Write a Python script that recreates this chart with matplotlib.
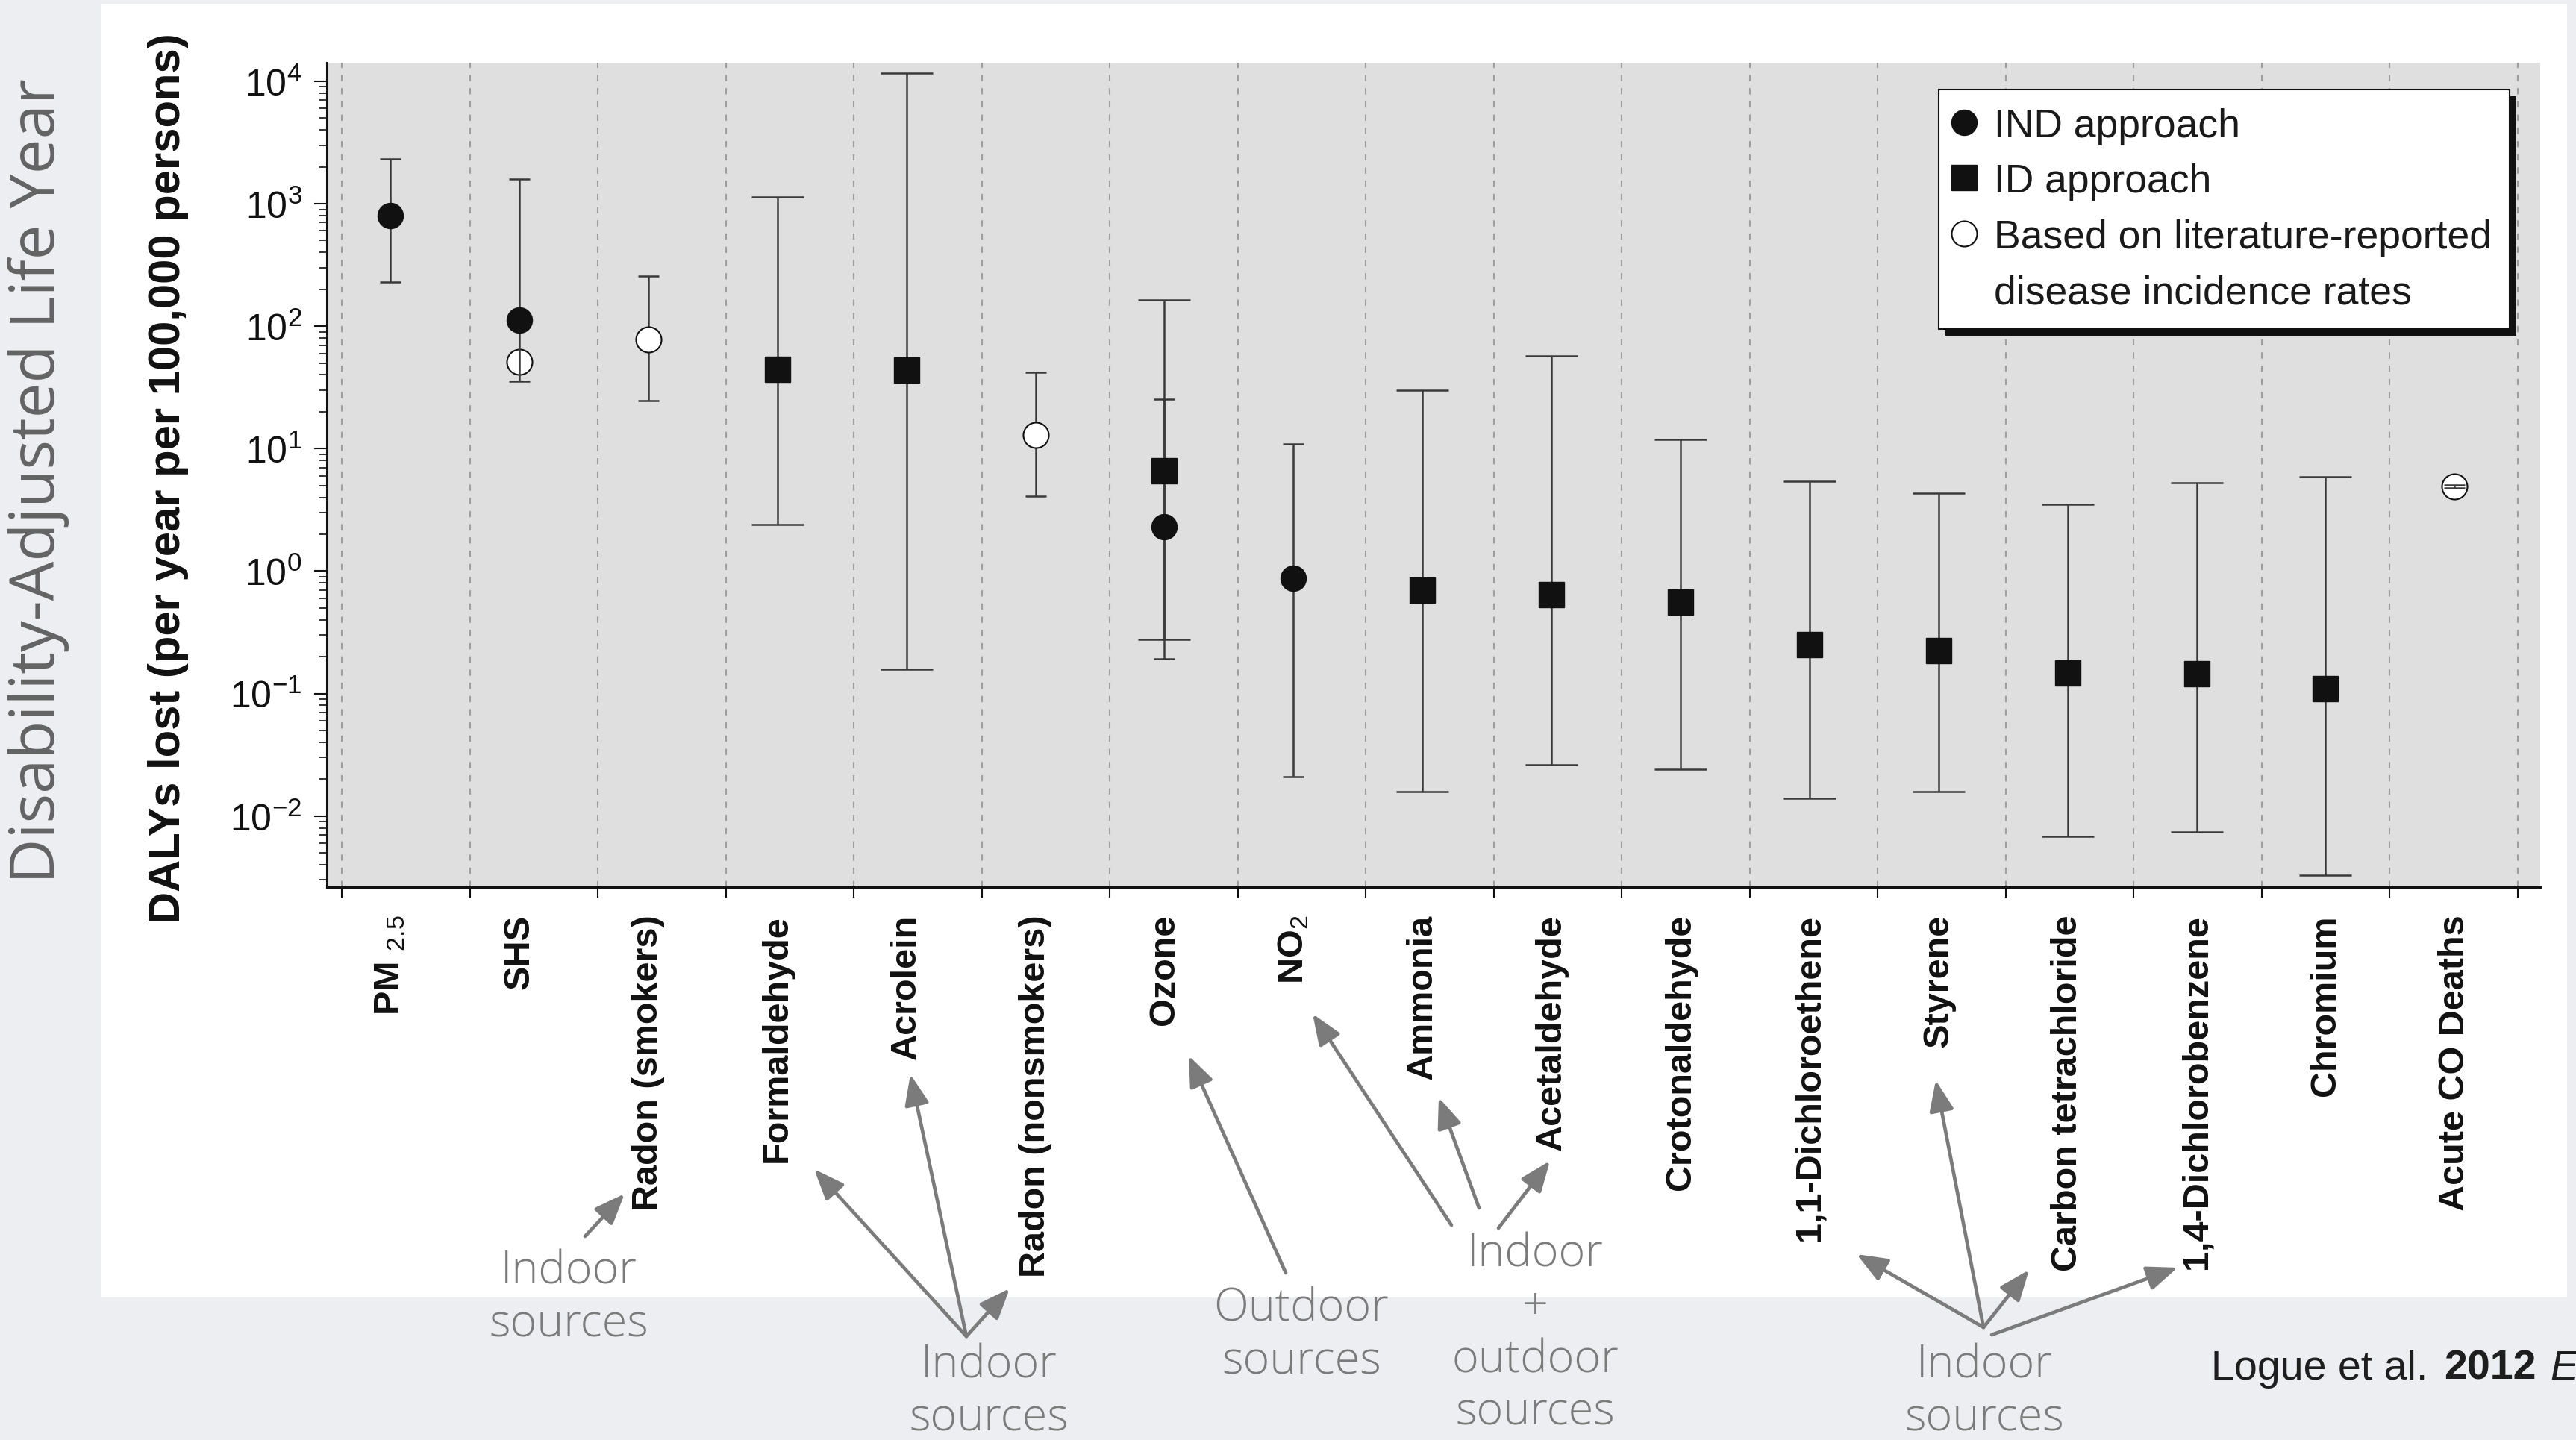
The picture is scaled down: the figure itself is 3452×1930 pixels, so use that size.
import numpy as np
import matplotlib
matplotlib.use("Agg")
import matplotlib.pyplot as plt
from matplotlib.patches import Rectangle
from matplotlib.lines import Line2D
from matplotlib.text import Annotation
from matplotlib.font_manager import FontProperties
from matplotlib.ticker import FixedLocator, LogLocator, NullFormatter

W, H, DPI = 3452, 1931, 100

plt.rcParams.update({
    "mathtext.fontset": "custom",
    "mathtext.rm": "Liberation Sans",
    "mathtext.it": "Liberation Sans:italic",
    "mathtext.bf": "Liberation Sans:bold",
})

# ---------------- data ----------------
categories = ["PM2.5", "SHS", "Radon (smokers)", "Formaldehyde", "Acrolein",
              "Radon (nonsmokers)", "Ozone", "NO2", "Ammonia", "Acetaldehyde",
              "Crotonaldehyde", "1,1-Dichloroethene", "Styrene",
              "Carbon tetrachloride", "1,4-Dichlorobenzene", "Chromium",
              "Acute CO Deaths"]
tick_labels = ["PM $_{\\mathrm{2.5}}$", "SHS", "Radon (smokers)", "Formaldehyde",
               "Acrolein", "Radon (nonsmokers)", "Ozone", "NO$_{\\mathrm{2}}$",
               "Ammonia", "Acetaldehyde", "Crotonaldehyde", "1,1-Dichloroethene",
               "Styrene", "Carbon tetrachloride", "1,4-Dichlorobenzene",
               "Chromium", "Acute CO Deaths"]

# IND approach (filled circles)
ind_names = ["PM2.5", "SHS", "Ozone", "NO2"]
ind_central = [800, 112, 2.3, 0.88]
ind_low = [228, 35.5, 0.192, 0.021]
ind_high = [2330, 1600, 25.5, 10.9]

# ID approach (filled squares)
id_names = ["Formaldehyde", "Acrolein", "Ozone", "Ammonia", "Acetaldehyde",
            "Crotonaldehyde", "1,1-Dichloroethene", "Styrene",
            "Carbon tetrachloride", "1,4-Dichlorobenzene", "Chromium"]
id_central = [44.5, 43.6, 6.6, 0.70, 0.64, 0.56, 0.25, 0.225, 0.147, 0.145, 0.110]
id_low = [2.4, 0.157, 0.277, 0.0158, 0.0262, 0.0242, 0.0140, 0.0158, 0.0068, 0.0074, 0.0033]
id_high = [1140, 11700, 163, 30.1, 57, 11.9, 5.44, 4.34, 3.51, 5.26, 5.88]

# Literature-reported disease incidence rates (open circles)
lit_names = ["SHS", "Radon (smokers)", "Radon (nonsmokers)", "Acute CO Deaths"]
lit_central = [51, 78, 12.9, 4.9]
lit_low = [np.nan, 24.7, 4.1, 4.75]
lit_high = [np.nan, 258, 42.2, 5.05]

legend_labels = ["IND approach", "ID approach", "Based on literature-reported",
                 "disease incidence rates"]

# ---------------- styling ----------------
SANS = ["Liberation Sans"]
LIGHT = ["Open Sans"]
MARK = "#111111"
BAR = "#3a3a3a"
NOTE = "#7b7b7b"


def fig_frac(x, y):
    """Convert top-left pixel position to figure fraction."""
    return x / W, 1 - y / H


fig = plt.figure(figsize=(W / DPI, H / DPI), dpi=DPI, facecolor="#eceef1")

# white panel behind the chart
x0, y0 = fig_frac(136, 1740)
x1, y1 = fig_frac(3440, 6)
fig.patches.append(Rectangle((x0, y0), x1 - x0, y1 - y0, transform=fig.transFigure,
                             facecolor="white", edgecolor="none", zorder=-5))

ax_l, ax_b = fig_frac(438, 1190)
ax_r, ax_t = fig_frac(3404, 85)
ax = fig.add_axes([ax_l, ax_b, ax_r - ax_l, ax_t - ax_b])
ax.set_zorder(1)
ax.set_facecolor("#dfdfdf")
ax.set_yscale("log")
ax.set_ylim(10 ** -2.581, 10 ** 4.152)
ax.set_xlim(-0.492, 16.663)
ax.set_axisbelow(True)

for s in ("top", "right"):
    ax.spines[s].set_visible(False)
for s in ("left", "bottom"):
    ax.spines[s].set_linewidth(2.2)
    ax.spines[s].set_color(MARK)

pos = {c: i for i, c in enumerate(categories)}
n = len(categories)

# band separators between categories
edges = -0.376 + 0.992 * np.arange(n + 1)
ax.xaxis.set_major_locator(FixedLocator(edges))
ax.xaxis.set_major_formatter(NullFormatter())
ax.tick_params(axis="x", which="major", direction="out", length=10, width=1.5,
               color=MARK)
ax.grid(True, axis="x", which="major", color="#9e9e9e", linestyle=(0, (4, 4.5)),
        linewidth=1.5)

# category names
ax.set_xticks(np.arange(n), labels=tick_labels, minor=True)
ax.tick_params(axis="x", which="minor", length=0, pad=26, labelrotation=90,
               labelsize=35, labelcolor=MARK)
for t in ax.get_xticklabels(minor=True):
    t.set_fontfamily(SANS)
    t.set_fontweight("bold")

# log y axis
ax.yaxis.set_major_locator(LogLocator(base=10, numticks=20))
ax.yaxis.set_minor_locator(LogLocator(base=10, subs=np.arange(2, 10), numticks=20))
ax.yaxis.set_minor_formatter(NullFormatter())
ax.tick_params(axis="y", which="major", direction="out", length=12, width=1.5,
               pad=12, labelsize=36, color=MARK, labelcolor=MARK)
ax.tick_params(axis="y", which="minor", direction="out", length=7, width=1.2,
               color=MARK)
for t in ax.get_yticklabels():
    t.set_fontfamily(SANS)

ax.set_ylabel("DALYs lost (per year per 100,000 persons)", fontfamily=SANS,
              fontweight="bold", fontsize=43, color=MARK)
ax.yaxis.set_label_coords(-0.0625, 0.497)


def bounds(central, low, high):
    c = np.asarray(central, float)
    return np.vstack([c - np.asarray(low, float), np.asarray(high, float) - c])


# literature-based values
lit_x = np.array([pos[c] for c in lit_names])
lit_err = bounds(lit_central, lit_low, lit_high)
bars_over_marker = np.array([c == "Acute CO Deaths" for c in lit_names])
for mask, z in ((~bars_over_marker, 2.0), (bars_over_marker, 3.2)):
    ax.errorbar(lit_x[mask], np.asarray(lit_central)[mask], yerr=lit_err[:, mask],
                fmt="none", ecolor=BAR, elinewidth=1.8, capsize=10, capthick=1.8,
                zorder=z)
ax.plot(lit_x, lit_central, linestyle="none", marker="o", markersize=24.5,
        markerfacecolor="white", markeredgecolor=MARK, markeredgewidth=1.5, zorder=3)

# IND approach
ind_x = [pos[c] for c in ind_names]
ax.errorbar(ind_x, ind_central, yerr=bounds(ind_central, ind_low, ind_high),
            fmt="o", markersize=24.5, color=MARK, ecolor=BAR, elinewidth=1.8,
            capsize=10, capthick=1.8, zorder=3.5)

# ID approach
id_x = [pos[c] for c in id_names]
ax.errorbar(id_x, id_central, yerr=bounds(id_central, id_low, id_high),
            fmt="s", markersize=24.5, color=MARK, ecolor=BAR, elinewidth=1.8,
            capsize=25.5, capthick=1.8, zorder=3.5)

# legend
handles = [
    Line2D([], [], linestyle="none", marker="o", markersize=24.5, color=MARK),
    Line2D([], [], linestyle="none", marker="s", markersize=24.5, color=MARK),
    Line2D([], [], linestyle="none", marker="o", markersize=24.5,
           markerfacecolor="white", markeredgecolor=MARK, markeredgewidth=1.5),
    Line2D([], [], linestyle="none"),
]
leg = ax.legend(handles, legend_labels, loc="upper right",
                bbox_to_anchor=((3363 - 438) / 2966, (1190 - 120.5) / 1105),
                borderaxespad=0, frameon=True, fancybox=False, framealpha=1,
                edgecolor=MARK, prop=FontProperties(family=SANS, size=38.5),
                borderpad=0.45, handlelength=0.38, handletextpad=0.55,
                labelspacing=0.46)
leg.get_frame().set_linewidth(1.5)
for t in leg.get_texts():
    t.set_color("#1a1a1a")

# left-hand title
fig.text(*fig_frac(52, 645), "Disability-Adjusted Life Year", rotation=90,
         ha="center", va="center", fontsize=60, fontfamily=LIGHT,
         fontweight="normal", color="#636363")

# source notes with arrows
notes = [("Indoor\nsources", 762, 1740),
         ("Indoor\nsources", 1325, 1866),
         ("Outdoor\nsources", 1744, 1790),
         ("Indoor\n+\noutdoor\nsources", 2057, 1788),
         ("Indoor\nsources", 2659, 1866)]
for txt, x, y in notes:
    fig.text(*fig_frac(x, y), txt, ha="center", va="center", ma="center",
             fontsize=44, fontfamily=LIGHT, fontweight="light", color=NOTE,
             linespacing=1.2)

arrows = [((784, 1658), (837, 1601)),
          ((1295, 1792), (1091, 1568)), ((1295, 1792), (1220, 1441)),
          ((1295, 1792), (1353, 1728)),
          ((1723, 1707), (1593, 1416)),
          ((1945, 1643), (1759, 1360)), ((1982, 1620), (1928, 1472)),
          ((2008, 1647), (2077, 1557)),
          ((2658, 1780), (2488, 1682)), ((2658, 1780), (2594, 1449)),
          ((2658, 1780), (2719, 1703)), ((2669, 1790), (2918, 1700))]
for (tx, ty), (hx, hy) in arrows:
    fig.add_artist(Annotation(
        "", xy=(hx, H - hy), xytext=(tx, H - ty), xycoords="figure pixels",
        textcoords="figure pixels",
        arrowprops=dict(arrowstyle="-|>,head_length=0.5,head_width=0.2",
                        mutation_scale=50, color=NOTE, lw=3.4,
                        shrinkA=0, shrinkB=0)))

# citation
cite_y = 1 - 1849 / H
c1 = fig.text(2963 / W, cite_y, "Logue et al.", fontfamily=SANS, fontsize=40,
              color="#1e1e1e", va="baseline")
c2 = Annotation("2012", xy=(1, cite_y), xycoords=(c1, "figure fraction"),
                xytext=(22, 0), textcoords="offset pixels", va="baseline",
                fontfamily=SANS, fontsize=40, fontweight="bold", color="#1e1e1e")
fig.add_artist(c2)
c3 = Annotation("E", xy=(1, cite_y), xycoords=(c2, "figure fraction"),
                xytext=(18, 0), textcoords="offset pixels", va="baseline",
                fontfamily=SANS, fontsize=40, fontstyle="italic", color="#1e1e1e")
fig.add_artist(c3)

# drop shadow behind the legend box
fig.canvas.draw()
bb = leg.get_frame().get_window_extent()
ax.add_artist(Rectangle((bb.x0 + 9, bb.y0 - 9), bb.width, bb.height, transform=None,
                        facecolor=MARK, edgecolor="none", zorder=4.9))

fig.savefig("out.png", dpi=DPI, facecolor=fig.get_facecolor())
